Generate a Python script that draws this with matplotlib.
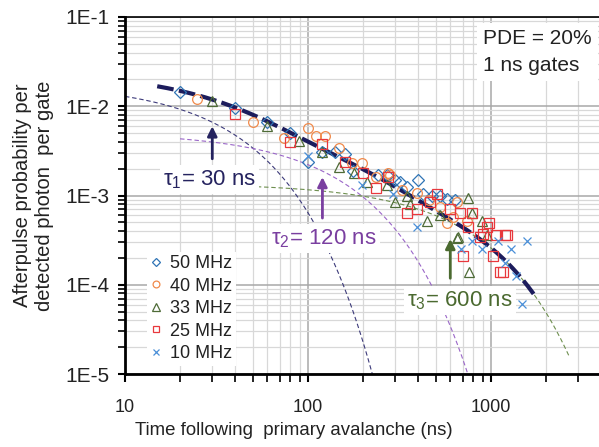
import numpy as np
import matplotlib
matplotlib.use("Agg")
from matplotlib import pyplot as plt
from matplotlib.ticker import LogLocator, FuncFormatter, NullFormatter

plt.rcParams['font.family'] = ['Liberation Sans', 'DejaVu Sans']
plt.rcParams['mathtext.fontset'] = 'custom'
plt.rcParams['mathtext.rm'] = 'Liberation Sans'

# measured afterpulse probability, time in ns
t_50 = [20, 40, 60, 80, 100, 119, 140, 160, 176, 241, 270, 299, 318, 347, 399, 425, 476, 526, 575, 636]
p_50 = [1.45e-2, 9.6e-3, 6.6e-3, 5.0e-3, 2.35e-3, 3.1e-3, 3.1e-3, 2.9e-3, 1.9e-3, 1.68e-3,
        1.68e-3, 1.48e-3, 1.40e-3, 1.23e-3, 1.48e-3, 1.05e-3, 1.0e-3, 1.0e-3, 9.2e-4, 8.8e-4]
t_40 = [24.7, 50, 74, 100, 110, 124, 147, 174, 197, 237, 273, 280, 326, 394, 460, 530, 575, 620, 650, 740]
p_40 = [1.2e-2, 6.6e-3, 4.4e-3, 5.7e-3, 4.7e-3, 4.7e-3, 3.4e-3, 2.3e-3, 2.3e-3, 1.6e-3,
        1.77e-3, 1.68e-3, 1.14e-3, 1.08e-3, 9.0e-4, 7.5e-4, 4.9e-4, 5.7e-4, 8.4e-4, 5.2e-4]
t_33 = [30, 60, 89, 119, 147, 178, 210, 270, 300, 350, 360, 445, 525, 650, 660, 750, 760, 790, 890, 950]
p_33 = [1.14e-2, 6.0e-3, 4.1e-3, 3.1e-3, 2.1e-3, 1.77e-3, 1.4e-3, 1.3e-3, 8.4e-4, 1.0e-3,
        8.1e-4, 5.2e-4, 6.0e-4, 3.3e-4, 3.4e-4, 9.4e-4, 1.4e-4, 6.3e-4, 5.2e-4, 3.6e-4]
t_25 = [40, 80, 119, 160, 200, 237, 273, 350, 394, 464, 510, 595, 675, 700, 750, 790, 870, 900,
        950, 980, 1030, 1070, 1120, 1160, 1190, 1230]
p_25 = [8.1e-3, 4.0e-3, 3.8e-3, 2.35e-3, 1.8e-3, 1.2e-3, 1.6e-3, 6.4e-4, 7.1e-4, 8.4e-4, 1.05e-3,
        7.1e-4, 6.3e-4, 2.1e-4, 4.4e-4, 6.4e-4, 3.4e-4, 3.7e-4, 4.4e-4, 4.9e-4, 2.1e-4, 3.6e-4,
        1.4e-4, 1.4e-4, 3.6e-4, 3.6e-4]
t_10 = [100, 197, 290, 394, 690, 790, 890, 1090, 1190, 1290, 1380, 1480, 1570]
p_10 = [2.8e-3, 1.3e-3, 1.05e-3, 4.4e-4, 2.5e-4, 3.1e-4, 2.5e-4, 3.1e-4, 1.77e-4, 2.5e-4,
        1.26e-4, 6.1e-5, 3.1e-4]

# three-exponential fit
taus = [30, 120, 600]
amps = [1.8e-2, 5.1e-3, 1.37e-3]
comp_ranges = [(10, 235), (20, 760), (48, 2670)]
fit_range = (15, 1780)

fig = plt.figure(figsize=(5.99, 4.47), dpi=100)
ax = fig.add_axes([125/599, 73/447, 474/599, 357/447])
ax.set_xscale('log')
ax.set_yscale('log')
ax.set_xlim(10, 3900)
ax.set_ylim(1e-5, 1e-1)

ax.grid(which='major', color='#a8a8a8', lw=1.1, zorder=0)
ax.grid(which='minor', color='#d8d8d8', lw=0.9, zorder=0)
ax.set_axisbelow(True)

comp_colors = ['#3c3a7a', '#9a66c8', '#6e8f4f']
for a, tau, (t0, t1), c in zip(amps, taus, comp_ranges, comp_colors):
    tt = np.geomspace(t0, t1, 200)
    ax.plot(tt, a*np.exp(-tt/tau), color=c, lw=0.8, dashes=(4, 2.5), zorder=2)

tt = np.geomspace(*fit_range, 300)
total = sum(a*np.exp(-tt/tau) for a, tau in zip(amps, taus))
ax.plot(tt, total, color='#1c1c5c', lw=3, dashes=(4, 1.3), zorder=3)

mk = dict(ls='none', mfc='none', mew=0.9, zorder=4)
ax.plot(t_50, p_50, marker='D', ms=6.5, mec='#2f74b5', label='50 MHz', **mk)
ax.plot(t_40, p_40, marker='o', ms=7, mec='#f08a4b', label='40 MHz', **mk)
ax.plot(t_33, p_33, marker='^', ms=7.5, mec='#4e6b37', label='33 MHz', **mk)
ax.plot(t_25, p_25, marker='s', ms=7, mec='#e8383d', label='25 MHz', **mk)
ax.plot(t_10, p_10, marker='x', ms=5.5, mec='#4a8fd8', label='10 MHz', **mk)

leg = ax.legend(loc='upper left', bbox_to_anchor=(0.028, 0.368), fontsize=13,
                frameon=True, framealpha=1, edgecolor='none', fancybox=False,
                handlelength=0.6, handletextpad=0.45, labelspacing=0.3,
                borderpad=0.2, markerscale=0.7)
for txt in leg.get_texts():
    txt.set_color('#222222')

# annotations
bb = dict(boxstyle='square,pad=0.15', fc='white', ec='none')
ax.text(0.755, 0.965, 'PDE = 20%\n1 ns gates', transform=ax.transAxes, ha='left', va='top',
        fontsize=15, linespacing=1.5, color='#222222',
        bbox=dict(boxstyle='square,pad=0.3', fc='white', ec='none'))

ax.annotate('', xy=(30, 6.4e-3), xytext=(30, 2.4e-3),
            arrowprops=dict(arrowstyle='-|>', color='#25235f', lw=2, mutation_scale=14))
ax.text(29, 1.5e-3, r'τ$_\mathregular{1}$= 30 ns', ha='center', va='center', fontsize=16,
        color='#25235f', bbox=bb)
ax.annotate('', xy=(120, 1.73e-3), xytext=(120, 5.2e-4),
            arrowprops=dict(arrowstyle='-|>', color='#7a3fa0', lw=2, mutation_scale=14))
ax.text(122, 3.3e-4, r'τ$_\mathregular{2}$= 120 ns', ha='center', va='center', fontsize=16,
        color='#7a3fa0', bbox=bb)
ax.annotate('', xy=(600, 3.5e-4), xytext=(600, 1.1e-4),
            arrowprops=dict(arrowstyle='-|>', color='#4b6a30', lw=2, mutation_scale=14))
ax.text(680, 6.7e-5, r'τ$_\mathregular{3}$= 600 ns', ha='center', va='center', fontsize=16,
        color='#4b6a30', bbox=bb)

ax.yaxis.set_major_locator(LogLocator(base=10, numticks=10))
ax.yaxis.set_minor_locator(LogLocator(base=10, subs=np.arange(2, 10), numticks=10))
ax.yaxis.set_major_formatter(FuncFormatter(lambda v, p: '1E%d' % int(round(np.log10(v)))))
ax.yaxis.set_minor_formatter(NullFormatter())
ax.xaxis.set_major_formatter(FuncFormatter(lambda v, p: '%d' % v))
ax.xaxis.set_minor_formatter(NullFormatter())
ax.tick_params(axis='y', which='major', labelsize=15, length=5, width=1.5, direction='out',
               pad=6, labelcolor='#222222')
ax.tick_params(axis='y', which='minor', length=5, width=1.2, direction='out')
ax.tick_params(axis='x', which='major', labelsize=13, length=6, width=1.5, direction='out',
               pad=12, labelcolor='#222222')
ax.tick_params(axis='x', which='minor', length=6, width=1.2, direction='out')

for s in ['left', 'bottom']:
    ax.spines[s].set_linewidth(2)
ax.spines['top'].set_linewidth(1.2)
ax.spines['right'].set_visible(False)

ax.set_xlabel('Time following  primary avalanche (ns)', fontsize=13.4, color='#222222')
ax.xaxis.set_label_coords((294 - 125) / 474, -0.135)
ax.set_ylabel('Afterpulse probability per\ndetected photon  per gate', fontsize=14.5,
              color='#222222', labelpad=8, linespacing=1.2)

fig.savefig('out.png', dpi=100)
